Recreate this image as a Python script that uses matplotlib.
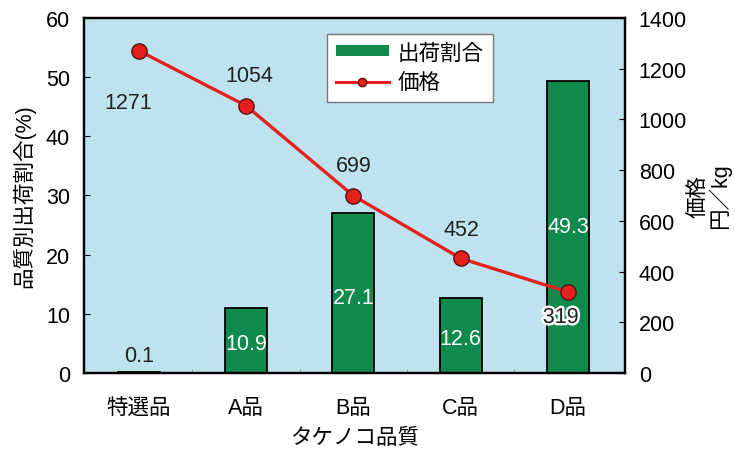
import numpy as np
import matplotlib.pyplot as plt
import matplotlib.patheffects as pe
from matplotlib.lines import Line2D
from matplotlib.patches import Patch

plt.rcParams['font.family'] = ['Liberation Sans', 'Noto Sans CJK JP']

grades = ['特選品', 'A品', 'B品', 'C品', 'D品']
share = [0.1, 10.9, 27.1, 12.6, 49.3]
price = [1271, 1054, 699, 452, 319]

green = '#0f8a4c'
red = '#e5211d'
fs = 15.5

fig = plt.figure(figsize=(7.35, 4.52), dpi=100)
ax = fig.add_axes([0.1143, 0.1726, 0.736, 0.7854])
ax.set_facecolor('#bee3ef')
x = np.arange(len(grades))

ax.bar(x, share, width=0.39, color=green, edgecolor='black', linewidth=1.3, zorder=2)
ax.set_ylim(0, 60)
ax.set_xlim(-0.51, 4.53)
ax.set_yticks(range(0, 61, 10))
ax.set_xticks(x)
ax.set_xticklabels(grades, fontsize=fs)
ax.set_xticks(x[:-1] + 0.5, minor=True)
ax.tick_params(axis='x', which='major', length=0, pad=17.5)
ax.tick_params(axis='x', which='minor', direction='in', length=3, color='#888888')
ax.tick_params(axis='y', direction='in', length=4, labelsize=fs, pad=10)
ax.set_xlabel('タケノコ品質', fontsize=fs, labelpad=6)
ax.set_ylabel('品質別出荷割合(%)', fontsize=fs, labelpad=8)
for s in ax.spines.values():
    s.set_linewidth(1.6)

# bar value labels (share, in %)
label_y = [3.0, 4.9, 12.8, 5.9, 24.8]
for xi, v, ly in zip(x, share, label_y):
    c = '#222222' if xi == 0 else 'white'
    ax.text(xi, ly, f'{v}', ha='center', va='center', fontsize=fs, color=c, zorder=3)

ax2 = ax.twinx()
ax2.plot(x, price, color=red, linewidth=2.4, marker='o', markersize=11,
         markerfacecolor=red, markeredgecolor='#5a1010', markeredgewidth=1.0, zorder=4)
ax2.set_ylim(0, 1400)
ax2.set_yticks(range(0, 1401, 200))
ax2.tick_params(axis='y', direction='in', length=4, labelsize=fs, pad=10)
ax2.set_ylabel('価格\n円／kg', fontsize=fs, rotation=90, labelpad=0, ma='center', linespacing=1.0)
for s in ax2.spines.values():
    s.set_linewidth(1.6)

# price labels (yen/kg)
offsets = [(-0.1, -205), (0.03, 118), (0, 118), (0.01, 115), (-0.07, -100)]
for xi, p, (dx, dy) in zip(x, price, offsets):
    t = ax2.text(xi + dx, p + dy, str(p), ha='center', va='center', fontsize=fs, color='#222222', zorder=5)
    if xi == 4:
        t.set_path_effects([pe.withStroke(linewidth=3.5, foreground='white')])

handles = [Patch(facecolor=green, edgecolor='none'),
           Line2D([0], [0], color=red, linewidth=2.2, marker='o', markersize=6,
                  markerfacecolor=red, markeredgecolor='#5a1010')]
leg = ax2.legend(handles, ['出荷割合', '価格'], loc='upper left', bbox_to_anchor=(0.449, 0.955),
                 fontsize=fs, frameon=True, fancybox=False, handlelength=2.5,
                 handleheight=0.4, handletextpad=0.4, borderpad=0.4, labelspacing=0.4,
                 borderaxespad=0)
leg.get_frame().set_edgecolor('#777777')
leg.get_frame().set_linewidth(1.0)
leg.get_frame().set_alpha(1)

fig.savefig('out.png', dpi=100, facecolor='white')
